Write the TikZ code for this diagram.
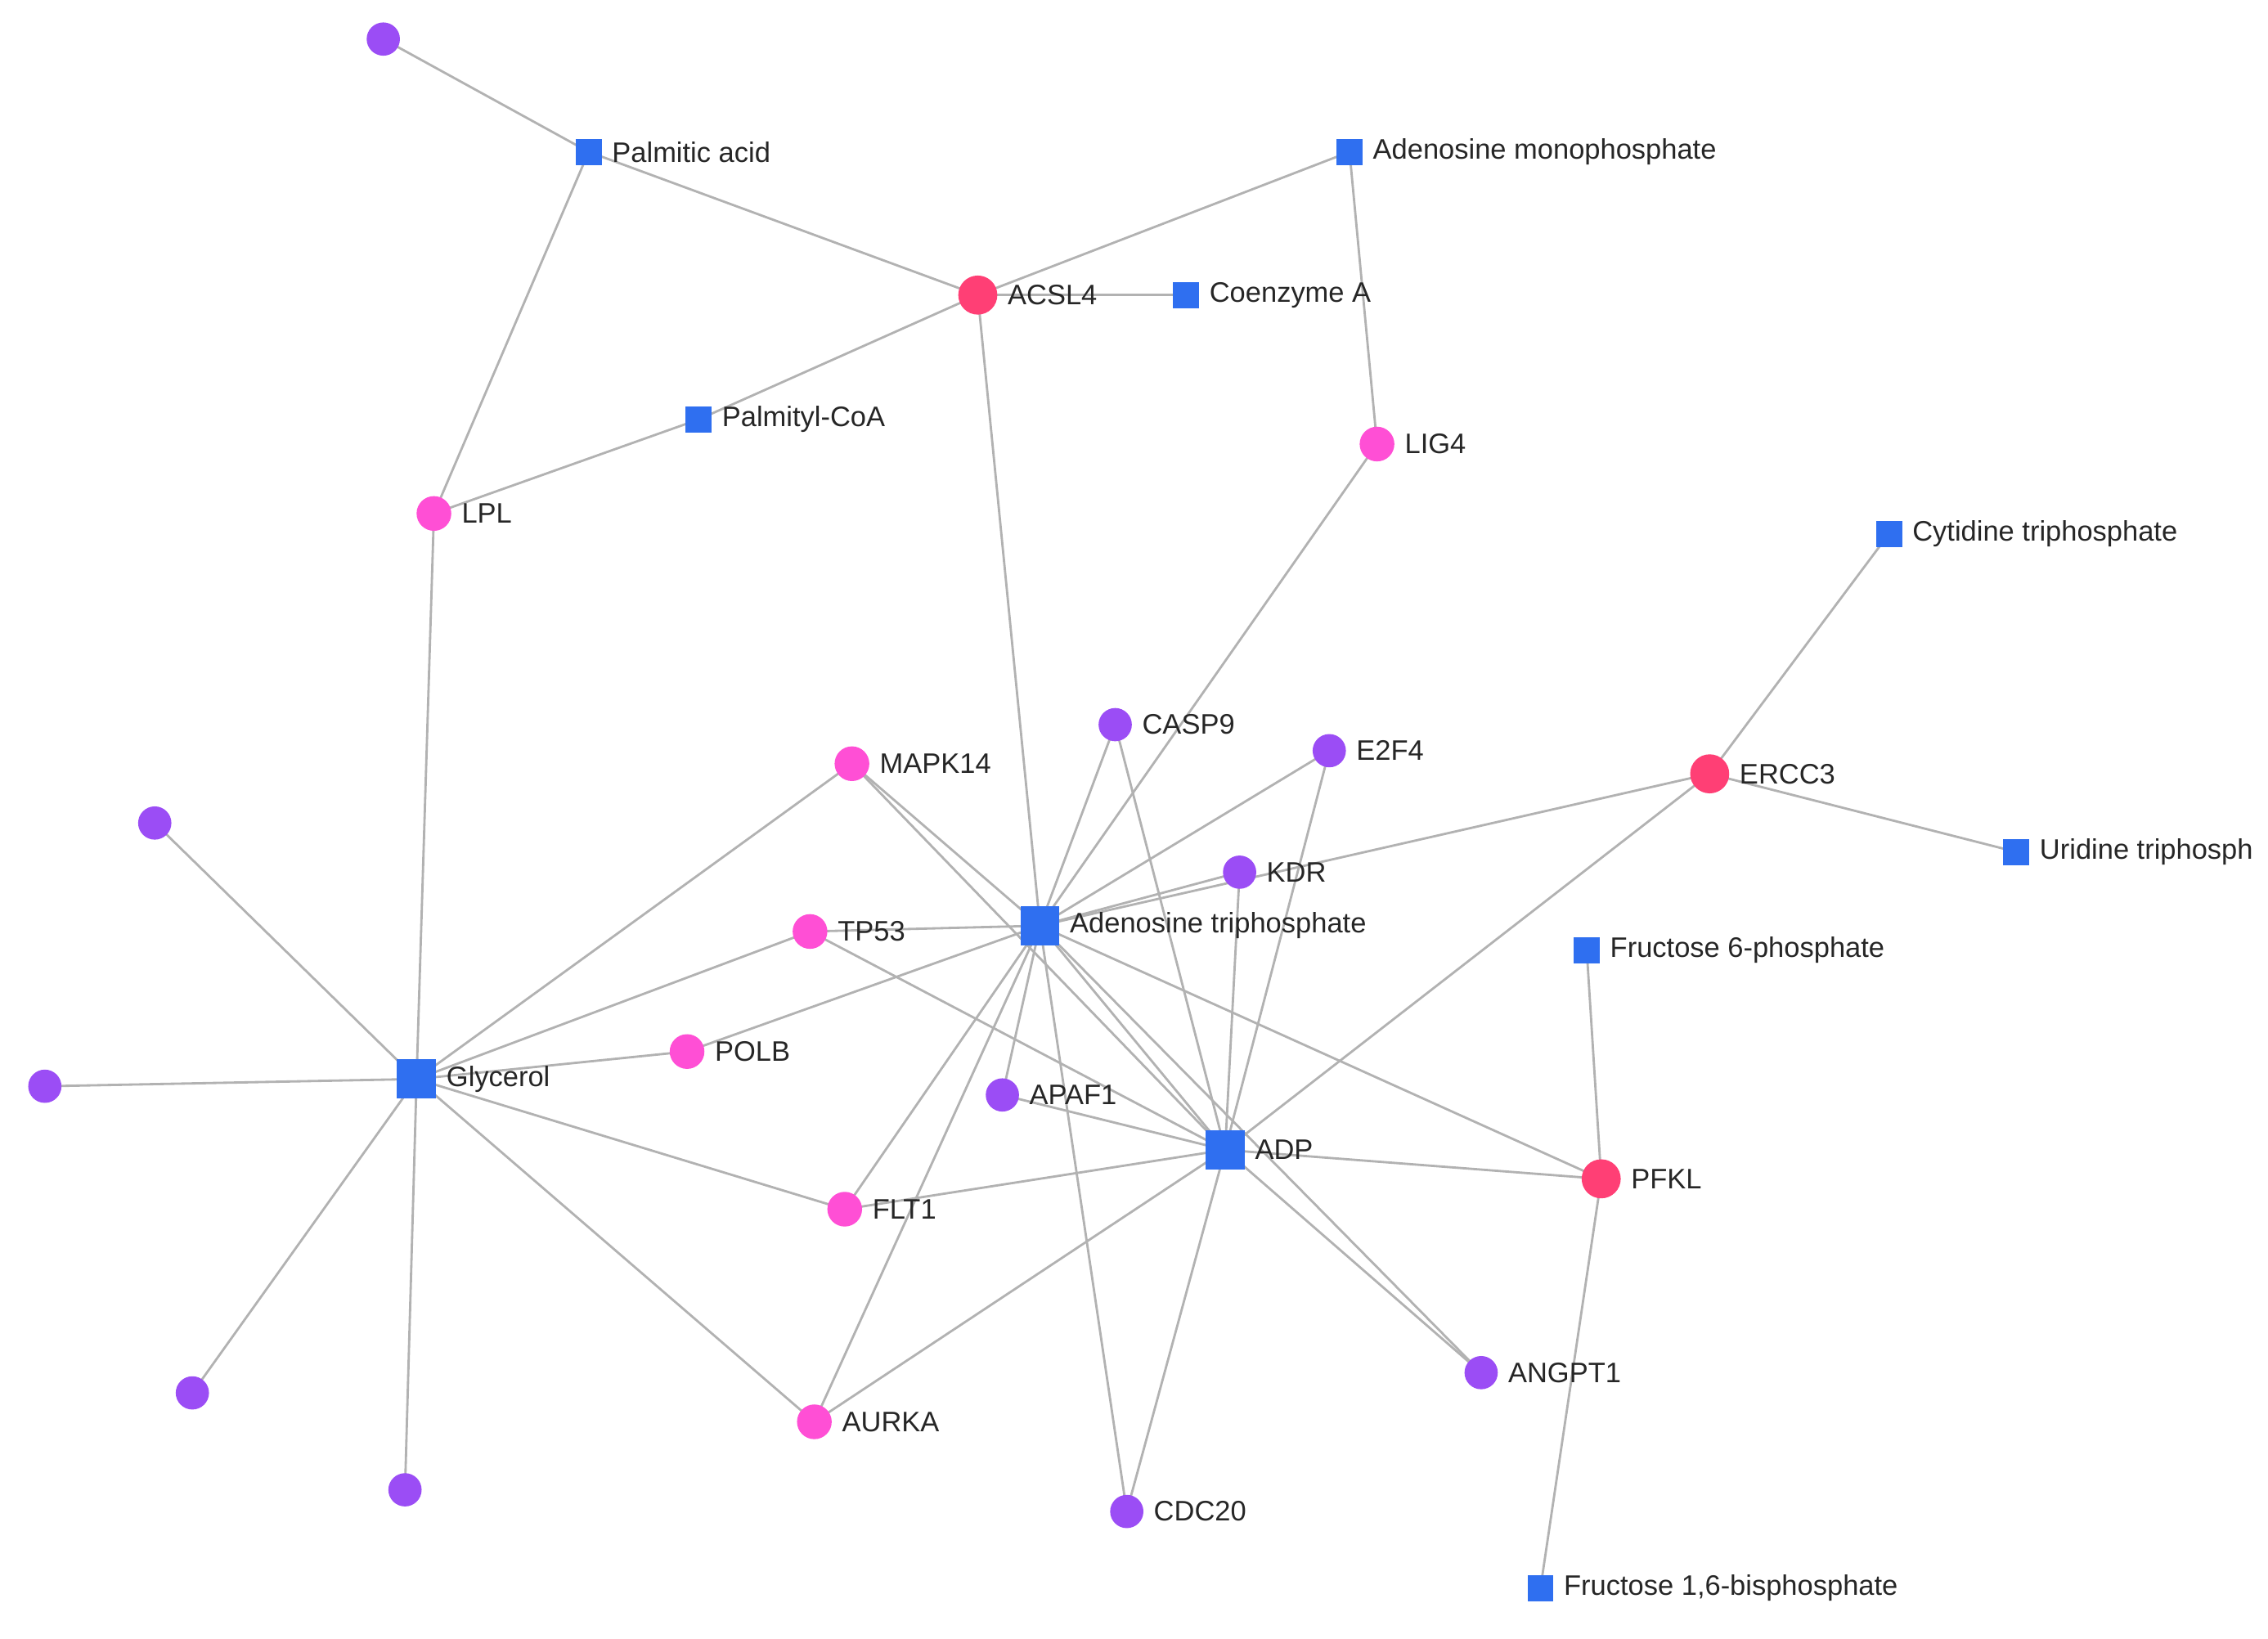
\documentclass[tikz,border=0pt]{standalone}
\usepackage{fontspec}
\setmainfont{Liberation Sans}
\pgfdeclarelayer{bg}
\pgfsetlayers{bg,main}
\definecolor{cblue}{HTML}{2F6FF0}
\definecolor{cpur}{HTML}{9B4DF5}
\definecolor{cpink}{HTML}{FF4FD5}
\definecolor{cred}{HTML}{FF3F75}
\begin{document}
\begin{tikzpicture}[x=1pt,y=-1pt,
  base/.style={inner sep=0pt,outer sep=0pt,draw=none},
  lab/.style={font=\fontsize{19.5}{19.5}\selectfont,text=black!85,inner sep=0pt},
  pu/.style={base,circle,minimum size=23,fill=cpur},
  pk/.style={base,circle,minimum size=24,fill=cpink},
  rd/.style={base,circle,minimum size=27,fill=cred},
  sq/.style={base,rectangle,minimum size=18,fill=cblue},
  bsq/.style={base,rectangle,minimum size=27,fill=cblue},
  every label/.style={lab},
  label distance=7pt,
  e/.style={draw=gray!60,line width=1.6}]
\useasboundingbox (0,0) rectangle (1568,1133);
\node[pu] (p1) at (265,27) {};
\node[pu] (p2) at (107,569) {};
\node[pu] (p3) at (31,751) {};
\node[pu] (p4) at (133,963) {};
\node[pu] (p5) at (280,1030) {};
\node[sq,label=right:Palmitic acid] (pa) at (407,105) {};
\node[sq,label=right:Adenosine monophosphate] (amp) at (933,105) {};
\node[rd,label=right:ACSL4] (acsl4) at (676,204) {};
\node[sq,label=right:Coenzyme A] (coa) at (820,204) {};
\node[sq,label=right:Palmityl-CoA] (pcoa) at (483,290) {};
\node[pk,label=right:LIG4] (lig4) at (952,307) {};
\node[pk,label=right:LPL] (lpl) at (300,355) {};
\node[sq,label=right:Cytidine triphosphate] (ctp) at (1306,369) {};
\node[pu,label=right:CASP9] (casp9) at (771,501) {};
\node[pu,label=right:E2F4] (e2f4) at (919,519) {};
\node[pk,label=right:MAPK14] (mapk) at (589,528) {};
\node[rd,label=right:ERCC3] (ercc3) at (1182,535) {};
\node[pu,label=right:KDR] (kdr) at (857,603) {};
\node[sq,label=right:Uridine triphosph] (utp) at (1394,589) {};
\node[pk,label=right:TP53] (tp53) at (560,644) {};
\node[sq,label=right:Fructose 6-phosphate] (f6p) at (1097,657) {};
\node[pk,label=right:POLB] (polb) at (475,727) {};
\node[pu,label=right:APAF1] (apaf1) at (693,757) {};
\node[rd,label=right:PFKL] (pfkl) at (1107,815) {};
\node[pk,label=right:FLT1] (flt1) at (584,836) {};
\node[pu,label=right:ANGPT1] (angpt1) at (1024,949) {};
\node[pk,label=right:AURKA] (aurka) at (563,983) {};
\node[pu,label=right:CDC20] (cdc20) at (779,1045) {};
\node[sq,label=right:{Fructose 1,6-bisphosphate}] (f16) at (1065,1098) {};
\node[bsq,label=right:Adenosine triphosphate] (atp) at (719,640) {};
\node[bsq,label=right:Glycerol] (gly) at (288,746) {};
\node[bsq,label=right:ADP] (adp) at (847,795) {};
\begin{pgfonlayer}{bg}
\foreach \a/\b in {p1/pa,pa/acsl4,pa/lpl,amp/acsl4,amp/lig4,acsl4/coa,acsl4/pcoa,acsl4/atp,
  pcoa/lpl,lpl/gly,lig4/atp,ctp/ercc3,ercc3/utp,ercc3/atp,ercc3/adp,casp9/atp,casp9/adp,
  e2f4/atp,e2f4/adp,mapk/atp,mapk/adp,mapk/gly,kdr/atp,kdr/adp,tp53/atp,tp53/adp,tp53/gly,
  polb/atp,polb/gly,atp/apaf1,apaf1/adp,atp/flt1,flt1/adp,flt1/gly,atp/aurka,aurka/adp,aurka/gly,
  atp/cdc20,cdc20/adp,atp/adp,atp/angpt1,adp/angpt1,atp/pfkl,adp/pfkl,f6p/pfkl,pfkl/f16,
  gly/p2,gly/p3,gly/p4,gly/p5}
  \draw[e] (\a.center) -- (\b.center);
\end{pgfonlayer}
\end{tikzpicture}
\end{document}
